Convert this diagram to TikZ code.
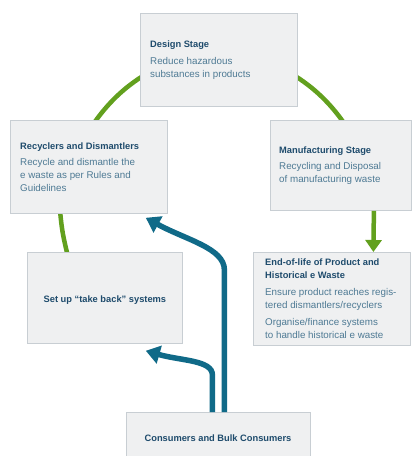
\documentclass[tikz,border=0pt]{standalone}
\usepackage{fontspec}
\setmainfont{Liberation Sans}
\usetikzlibrary{arrows.meta}
\definecolor{boxfill}{HTML}{EFF0F1}
\definecolor{boxline}{HTML}{C8CED3}
\definecolor{titleblue}{HTML}{1E4B6C}
\definecolor{bodyblue}{HTML}{4E7A94}
\definecolor{leafgreen}{HTML}{62A01E}
\definecolor{tealarrow}{HTML}{106A88}
\newcommand\stagetitle[1]{{\fontsize{9.3}{13}\selectfont\bfseries\color{titleblue}#1}}
\begin{document}
\begin{tikzpicture}[x=1pt,y=-1pt,
  stagebox/.style={draw=boxline, fill=boxfill, line width=0.8pt, inner sep=0pt, anchor=north west},
  stagetext/.style={anchor=west, align=left, inner sep=0pt, text=bodyblue, font=\fontsize{9.8}{13}\selectfont},
  greenline/.style={draw=leafgreen, line width=4.5pt},
  tealline/.style={draw=tealarrow, line width=5.5pt, -{Triangle[width=18pt,length=14pt]}}
]
\useasboundingbox (0,0) rectangle (420,456);
\clip (0,0) rectangle (420,456);
\fill[white] (0,0) rectangle (420,456);

% green cycle arcs (behind boxes)
\draw[greenline] plot[domain=-150:-30, samples=80, smooth] ({219+158*cos(\x)},{232+178*sin(\x)});
\draw[greenline] (59,200) .. controls (62,232) .. (70,265);

% boxes
\node[stagebox, minimum width=157pt, minimum height=93pt] (design) at (140,13) {};
\node[stagebox, minimum width=157pt, minimum height=93pt] (recyclers) at (10,120) {};
\node[stagebox, minimum width=141pt, minimum height=90pt] (manu) at (270,120) {};
\node[stagebox, minimum width=157pt, minimum height=93pt] (eol) at (253,252) {};
\node[stagebox, minimum width=155pt, minimum height=91pt] (setup) at (27,252) {};
\node[stagebox, minimum width=184pt, minimum height=54pt] (consumers) at (126,412) {};

% texts
\node[stagetext] (design-t) at ([xshift=10pt]design.west)
  {\stagetitle{Design Stage}\\[4pt]Reduce hazardous\\substances in products};
\node[stagetext] (recyclers-t) at ([xshift=10pt]recyclers.west)
  {\stagetitle{Recyclers and Dismantlers}\\[3pt]Recycle and dismantle the\\e waste as per Rules and\\Guidelines};
\node[stagetext] (manu-t) at ([xshift=9pt]manu.west)
  {\stagetitle{Manufacturing Stage}\\[3pt]Recycling and Disposal\\of manufacturing waste};
\node[stagetext] (eol-t) at ([xshift=12pt]eol.west)
  {\stagetitle{End-of-life of Product and}\\\stagetitle{Historical e Waste}\\[4pt]Ensure product reaches regis-\\tered dismantlers/recyclers\\[4pt]Organise/finance systems\\to handle historical e waste};
\node[anchor=center, inner sep=0pt] (setup-t) at ([yshift=-2.5pt]setup.center)
  {\stagetitle{Set up “take back” systems}};
\node[anchor=center, inner sep=0pt] (consumers-t) at (218,438)
  {\stagetitle{Consumers and Bulk Consumers}};

% green arrow down
\draw[greenline, -{Triangle[width=16pt,length=12pt]}] ([xshift=33pt]manu.south) -- ([xshift=41.5pt]eol.north);

% teal arrows
\draw[tealline] ([xshift=6pt]consumers.north) -- ++(0,-142)
  .. controls +(0,-22) and +(40,22) .. ([shift={(-22,4)}]recyclers.south east);
\draw[tealline] ([xshift=-6pt]consumers.north) -- ++(0,-37)
  .. controls +(0,-15) and +(35,10) .. ([shift={(-37,7)}]setup.south east);
\end{tikzpicture}
\end{document}
